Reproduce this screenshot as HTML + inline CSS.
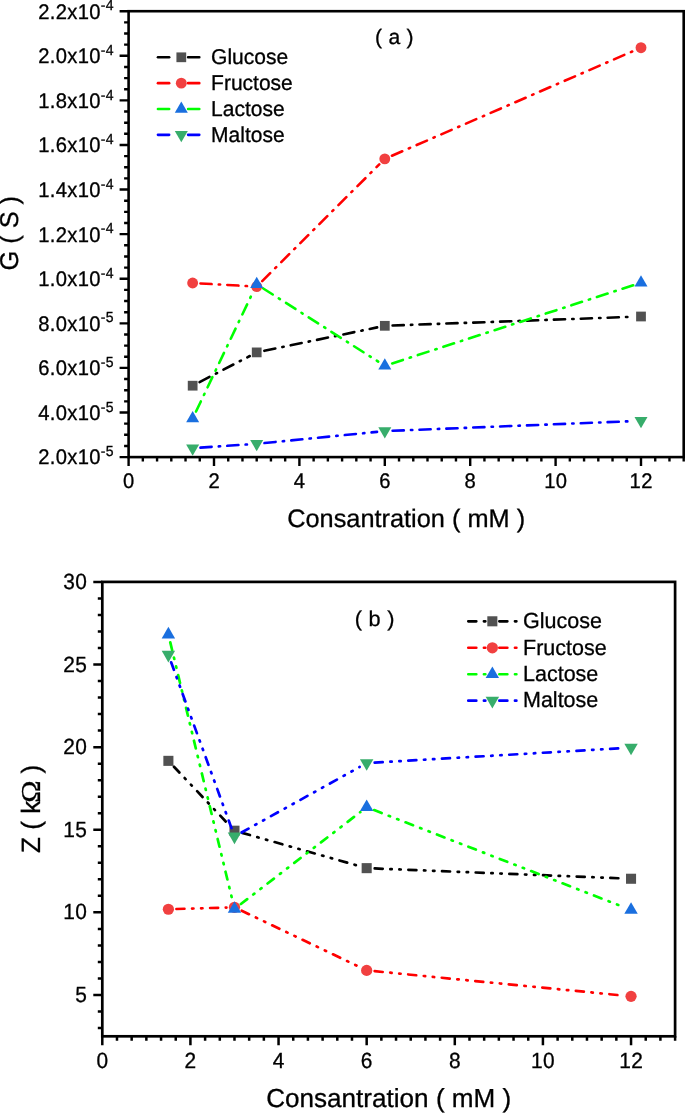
<!DOCTYPE html>
<html><head><meta charset="utf-8"><title>Figure</title>
<style>html,body{margin:0;padding:0;background:#fff}svg{display:block}text{font-family:'Liberation Sans', Arial, sans-serif;fill:#000;text-rendering:geometricPrecision}text.sf{font-family:'Liberation Serif',serif}</style>
</head><body>
<svg width="685" height="1113" viewBox="0 0 685 1113" style="will-change:transform">
<rect width="685" height="1113" fill="#fff"/>
<rect x="128.6" y="11.2" width="555.1" height="445.90000000000003" fill="none" stroke="#000" stroke-width="2.6"/>
<path d="M128.60 457.1 v9 M142.83 457.1 v4.5 M157.07 457.1 v4.5 M171.30 457.1 v4.5 M185.53 457.1 v4.5 M199.77 457.1 v4.5 M214.00 457.1 v9 M228.23 457.1 v4.5 M242.47 457.1 v4.5 M256.70 457.1 v4.5 M270.93 457.1 v4.5 M285.17 457.1 v4.5 M299.40 457.1 v9 M313.63 457.1 v4.5 M327.87 457.1 v4.5 M342.10 457.1 v4.5 M356.33 457.1 v4.5 M370.57 457.1 v4.5 M384.80 457.1 v9 M399.03 457.1 v4.5 M413.27 457.1 v4.5 M427.50 457.1 v4.5 M441.73 457.1 v4.5 M455.97 457.1 v4.5 M470.20 457.1 v9 M484.43 457.1 v4.5 M498.67 457.1 v4.5 M512.90 457.1 v4.5 M527.13 457.1 v4.5 M541.37 457.1 v4.5 M555.60 457.1 v9 M569.83 457.1 v4.5 M584.07 457.1 v4.5 M598.30 457.1 v4.5 M612.53 457.1 v4.5 M626.77 457.1 v4.5 M641.00 457.1 v9 M655.23 457.1 v4.5 M669.47 457.1 v4.5 M683.70 457.1 v4.5 M128.6 457.10 h-9 M128.6 445.95 h-4.5 M128.6 434.81 h-4.5 M128.6 423.66 h-4.5 M128.6 412.51 h-9 M128.6 401.36 h-4.5 M128.6 390.22 h-4.5 M128.6 379.07 h-4.5 M128.6 367.92 h-9 M128.6 356.77 h-4.5 M128.6 345.62 h-4.5 M128.6 334.48 h-4.5 M128.6 323.33 h-9 M128.6 312.18 h-4.5 M128.6 301.04 h-4.5 M128.6 289.89 h-4.5 M128.6 278.74 h-9 M128.6 267.59 h-4.5 M128.6 256.44 h-4.5 M128.6 245.30 h-4.5 M128.6 234.15 h-9 M128.6 223.00 h-4.5 M128.6 211.86 h-4.5 M128.6 200.71 h-4.5 M128.6 189.56 h-9 M128.6 178.41 h-4.5 M128.6 167.26 h-4.5 M128.6 156.12 h-4.5 M128.6 144.97 h-9 M128.6 133.82 h-4.5 M128.6 122.68 h-4.5 M128.6 111.53 h-4.5 M128.6 100.38 h-9 M128.6 89.23 h-4.5 M128.6 78.08 h-4.5 M128.6 66.94 h-4.5 M128.6 55.79 h-9 M128.6 44.64 h-4.5 M128.6 33.50 h-4.5 M128.6 22.35 h-4.5 M128.6 11.20 h-9" stroke="#000" stroke-width="2.4" fill="none"/>
<text transform="translate(128.75,488.00) scale(1,1.045)" font-size="20.2" text-anchor="middle" letter-spacing="0.3" stroke="#000" stroke-width="0.3">0</text>
<text transform="translate(214.15,488.00) scale(1,1.045)" font-size="20.2" text-anchor="middle" letter-spacing="0.3" stroke="#000" stroke-width="0.3">2</text>
<text transform="translate(299.55,488.00) scale(1,1.045)" font-size="20.2" text-anchor="middle" letter-spacing="0.3" stroke="#000" stroke-width="0.3">4</text>
<text transform="translate(384.95,488.00) scale(1,1.045)" font-size="20.2" text-anchor="middle" letter-spacing="0.3" stroke="#000" stroke-width="0.3">6</text>
<text transform="translate(470.35,488.00) scale(1,1.045)" font-size="20.2" text-anchor="middle" letter-spacing="0.3" stroke="#000" stroke-width="0.3">8</text>
<text transform="translate(555.75,488.00) scale(1,1.045)" font-size="20.2" text-anchor="middle" letter-spacing="0.3" stroke="#000" stroke-width="0.3">10</text>
<text transform="translate(641.15,488.00) scale(1,1.045)" font-size="20.2" text-anchor="middle" letter-spacing="0.3" stroke="#000" stroke-width="0.3">12</text>
<text transform="translate(113.80,464.47) scale(1,1.045)" font-size="20.2" text-anchor="end" letter-spacing="0.3" stroke="#000" stroke-width="0.3">2.0x10<tspan font-size="14" dy="-7.9">-5</tspan></text>
<text transform="translate(113.80,419.88) scale(1,1.045)" font-size="20.2" text-anchor="end" letter-spacing="0.3" stroke="#000" stroke-width="0.3">4.0x10<tspan font-size="14" dy="-7.9">-5</tspan></text>
<text transform="translate(113.80,375.29) scale(1,1.045)" font-size="20.2" text-anchor="end" letter-spacing="0.3" stroke="#000" stroke-width="0.3">6.0x10<tspan font-size="14" dy="-7.9">-5</tspan></text>
<text transform="translate(113.80,330.70) scale(1,1.045)" font-size="20.2" text-anchor="end" letter-spacing="0.3" stroke="#000" stroke-width="0.3">8.0x10<tspan font-size="14" dy="-7.9">-5</tspan></text>
<text transform="translate(113.80,286.11) scale(1,1.045)" font-size="20.2" text-anchor="end" letter-spacing="0.3" stroke="#000" stroke-width="0.3">1.0x10<tspan font-size="14" dy="-7.9">-4</tspan></text>
<text transform="translate(113.80,241.52) scale(1,1.045)" font-size="20.2" text-anchor="end" letter-spacing="0.3" stroke="#000" stroke-width="0.3">1.2x10<tspan font-size="14" dy="-7.9">-4</tspan></text>
<text transform="translate(113.80,196.93) scale(1,1.045)" font-size="20.2" text-anchor="end" letter-spacing="0.3" stroke="#000" stroke-width="0.3">1.4x10<tspan font-size="14" dy="-7.9">-4</tspan></text>
<text transform="translate(113.80,152.34) scale(1,1.045)" font-size="20.2" text-anchor="end" letter-spacing="0.3" stroke="#000" stroke-width="0.3">1.6x10<tspan font-size="14" dy="-7.9">-4</tspan></text>
<text transform="translate(113.80,107.75) scale(1,1.045)" font-size="20.2" text-anchor="end" letter-spacing="0.3" stroke="#000" stroke-width="0.3">1.8x10<tspan font-size="14" dy="-7.9">-4</tspan></text>
<text transform="translate(113.80,63.16) scale(1,1.045)" font-size="20.2" text-anchor="end" letter-spacing="0.3" stroke="#000" stroke-width="0.3">2.0x10<tspan font-size="14" dy="-7.9">-4</tspan></text>
<text transform="translate(113.80,18.57) scale(1,1.045)" font-size="20.2" text-anchor="end" letter-spacing="0.3" stroke="#000" stroke-width="0.3">2.2x10<tspan font-size="14" dy="-7.9">-4</tspan></text>
<text transform="translate(406.15,527.30) scale(1,1.0)" font-size="25.33" text-anchor="middle" stroke="#000" stroke-width="0.3">Consantration ( mM )</text>
<text transform="translate(18.00,233.25) rotate(-90) scale(1,1.015)" font-size="25.33" text-anchor="middle" stroke="#000" stroke-width="0.3">G ( S )</text>
<text transform="translate(375.10,43.90) scale(1,0.99)" font-size="21.1" letter-spacing="0.25" stroke="#000" stroke-width="0.3">( a )</text>
<line x1="199.57" y1="382.10" x2="249.78" y2="356.00" stroke="#000000" stroke-width="2.6" stroke-linecap="round" stroke-dasharray="11.2 7.15 1.4 7.15"/>
<line x1="264.34" y1="350.81" x2="377.16" y2="327.39" stroke="#000000" stroke-width="2.6" stroke-linecap="round" stroke-dasharray="11.2 7.15 1.4 7.15"/>
<line x1="392.59" y1="325.52" x2="633.21" y2="316.78" stroke="#000000" stroke-width="2.6" stroke-linecap="round" stroke-dasharray="11.2 7.15 1.4 7.15"/>
<rect x="187.78" y="380.82" width="9.75" height="9.75" fill="#515151"/>
<rect x="251.83" y="347.52" width="9.75" height="9.75" fill="#515151"/>
<rect x="379.93" y="320.93" width="9.75" height="9.75" fill="#515151"/>
<rect x="636.13" y="311.62" width="9.75" height="9.75" fill="#515151"/>
<line x1="200.44" y1="283.44" x2="248.91" y2="286.16" stroke="#FF0000" stroke-width="2.6" stroke-linecap="round" stroke-dasharray="11.2 7.15 1.4 7.15"/>
<line x1="262.22" y1="281.09" x2="379.28" y2="164.36" stroke="#FF0000" stroke-width="2.6" stroke-linecap="round" stroke-dasharray="11.2 7.15 1.4 7.15"/>
<line x1="391.96" y1="155.75" x2="633.84" y2="50.80" stroke="#FF0000" stroke-width="2.6" stroke-linecap="round" stroke-dasharray="11.2 7.15 1.4 7.15"/>
<circle cx="192.65" cy="283.00" r="5.45" fill="#F14040"/>
<circle cx="256.70" cy="286.60" r="5.45" fill="#F14040"/>
<circle cx="384.80" cy="158.85" r="5.45" fill="#F14040"/>
<circle cx="641.00" cy="47.70" r="5.45" fill="#F14040"/>
<line x1="196.01" y1="411.56" x2="253.34" y2="291.34" stroke="#00FF00" stroke-width="2.6" stroke-linecap="round" stroke-dasharray="11.2 7.15 1.4 7.15"/>
<line x1="263.28" y1="288.49" x2="378.22" y2="361.61" stroke="#00FF00" stroke-width="2.6" stroke-linecap="round" stroke-dasharray="11.2 7.15 1.4 7.15"/>
<line x1="392.22" y1="363.39" x2="633.58" y2="285.11" stroke="#00FF00" stroke-width="2.6" stroke-linecap="round" stroke-dasharray="11.2 7.15 1.4 7.15"/>
<polygon points="192.65,411.09 186.15,422.35 199.15,422.35" fill="#1A6FDF"/>
<polygon points="256.70,276.79 250.20,288.05 263.20,288.05" fill="#1A6FDF"/>
<polygon points="384.80,358.29 378.30,369.55 391.30,369.55" fill="#1A6FDF"/>
<polygon points="641.00,275.19 634.50,286.45 647.50,286.45" fill="#1A6FDF"/>
<line x1="200.43" y1="447.67" x2="248.92" y2="444.33" stroke="#0000FF" stroke-width="2.6" stroke-linecap="round" stroke-dasharray="11.2 7.15 1.4 7.15"/>
<line x1="264.46" y1="443.03" x2="377.04" y2="431.87" stroke="#0000FF" stroke-width="2.6" stroke-linecap="round" stroke-dasharray="11.2 7.15 1.4 7.15"/>
<line x1="392.59" y1="430.79" x2="633.21" y2="421.11" stroke="#0000FF" stroke-width="2.6" stroke-linecap="round" stroke-dasharray="11.2 7.15 1.4 7.15"/>
<polygon points="192.65,455.71 186.15,444.45 199.15,444.45" fill="#37AD6B"/>
<polygon points="256.70,451.31 250.20,440.05 263.20,440.05" fill="#37AD6B"/>
<polygon points="384.80,438.61 378.30,427.35 391.30,427.35" fill="#37AD6B"/>
<polygon points="641.00,428.31 634.50,417.05 647.50,417.05" fill="#37AD6B"/>
<g clip-path="url(#alc)">
<line x1="157.95" y1="57.30" x2="174.50" y2="57.30" stroke="#000000" stroke-width="2.6" stroke-linecap="round" stroke-dasharray="11.2 7.15 1.4 7.15"/>
<line x1="188.10" y1="57.30" x2="224.65" y2="57.30" stroke="#000000" stroke-width="2.6" stroke-linecap="round" stroke-dasharray="11.2 7.15 1.4 7.15"/>
</g>
<rect x="176.43" y="52.42" width="9.75" height="9.75" fill="#515151"/>
<text transform="translate(211.10,64.05) scale(1,1.02)" font-size="21" stroke="#000" stroke-width="0.3">Glucose</text>
<g clip-path="url(#alc)">
<line x1="157.95" y1="83.15" x2="174.50" y2="83.15" stroke="#FF0000" stroke-width="2.6" stroke-linecap="round" stroke-dasharray="11.2 7.15 1.4 7.15"/>
<line x1="188.10" y1="83.15" x2="224.65" y2="83.15" stroke="#FF0000" stroke-width="2.6" stroke-linecap="round" stroke-dasharray="11.2 7.15 1.4 7.15"/>
</g>
<circle cx="181.30" cy="83.15" r="5.45" fill="#F14040"/>
<text transform="translate(211.10,90.05) scale(1,1.02)" font-size="21" stroke="#000" stroke-width="0.3">Fructose</text>
<g clip-path="url(#alc)">
<line x1="157.95" y1="109.00" x2="174.50" y2="109.00" stroke="#00FF00" stroke-width="2.6" stroke-linecap="round" stroke-dasharray="11.2 7.15 1.4 7.15"/>
<line x1="188.10" y1="109.00" x2="224.65" y2="109.00" stroke="#00FF00" stroke-width="2.6" stroke-linecap="round" stroke-dasharray="11.2 7.15 1.4 7.15"/>
</g>
<polygon points="181.30,101.49 174.80,112.75 187.80,112.75" fill="#1A6FDF"/>
<text transform="translate(211.10,116.05) scale(1,1.02)" font-size="21" stroke="#000" stroke-width="0.3">Lactose</text>
<g clip-path="url(#alc)">
<line x1="157.95" y1="134.85" x2="174.50" y2="134.85" stroke="#0000FF" stroke-width="2.6" stroke-linecap="round" stroke-dasharray="11.2 7.15 1.4 7.15"/>
<line x1="188.10" y1="134.85" x2="224.65" y2="134.85" stroke="#0000FF" stroke-width="2.6" stroke-linecap="round" stroke-dasharray="11.2 7.15 1.4 7.15"/>
</g>
<polygon points="181.30,142.36 174.80,131.10 187.80,131.10" fill="#37AD6B"/>
<text transform="translate(211.10,142.05) scale(1,1.02)" font-size="21" stroke="#000" stroke-width="0.3">Maltose</text>
<clipPath id="alc"><rect x="154.65" y="47.3" width="50.29999999999998" height="97.55000000000001"/></clipPath>
<rect x="102.3" y="581.9" width="572.8000000000001" height="454.4" fill="none" stroke="#000" stroke-width="2.7"/>
<path d="M102.30 1036.3 v9 M116.99 1036.3 v4.5 M131.67 1036.3 v4.5 M146.36 1036.3 v4.5 M161.05 1036.3 v4.5 M175.74 1036.3 v4.5 M190.42 1036.3 v9 M205.11 1036.3 v4.5 M219.80 1036.3 v4.5 M234.48 1036.3 v4.5 M249.17 1036.3 v4.5 M263.86 1036.3 v4.5 M278.55 1036.3 v9 M293.23 1036.3 v4.5 M307.92 1036.3 v4.5 M322.61 1036.3 v4.5 M337.29 1036.3 v4.5 M351.98 1036.3 v4.5 M366.67 1036.3 v9 M381.36 1036.3 v4.5 M396.04 1036.3 v4.5 M410.73 1036.3 v4.5 M425.42 1036.3 v4.5 M440.11 1036.3 v4.5 M454.79 1036.3 v9 M469.48 1036.3 v4.5 M484.17 1036.3 v4.5 M498.85 1036.3 v4.5 M513.54 1036.3 v4.5 M528.23 1036.3 v4.5 M542.92 1036.3 v9 M557.60 1036.3 v4.5 M572.29 1036.3 v4.5 M586.98 1036.3 v4.5 M601.66 1036.3 v4.5 M616.35 1036.3 v4.5 M631.04 1036.3 v9 M645.73 1036.3 v4.5 M660.41 1036.3 v4.5 M675.10 1036.3 v4.5 M102.3 1028.04 h-4.5 M102.3 1011.51 h-4.5 M102.3 994.99 h-9 M102.3 978.47 h-4.5 M102.3 961.94 h-4.5 M102.3 945.42 h-4.5 M102.3 928.90 h-4.5 M102.3 912.37 h-9 M102.3 895.85 h-4.5 M102.3 879.33 h-4.5 M102.3 862.80 h-4.5 M102.3 846.28 h-4.5 M102.3 829.75 h-9 M102.3 813.23 h-4.5 M102.3 796.71 h-4.5 M102.3 780.18 h-4.5 M102.3 763.66 h-4.5 M102.3 747.14 h-9 M102.3 730.61 h-4.5 M102.3 714.09 h-4.5 M102.3 697.57 h-4.5 M102.3 681.04 h-4.5 M102.3 664.52 h-9 M102.3 647.99 h-4.5 M102.3 631.47 h-4.5 M102.3 614.95 h-4.5 M102.3 598.42 h-4.5 M102.3 581.90 h-9" stroke="#000" stroke-width="2.5" fill="none"/>
<text transform="translate(102.50,1067.80) scale(1,1.045)" font-size="20.9" text-anchor="middle" letter-spacing="0.4" stroke="#000" stroke-width="0.3">0</text>
<text transform="translate(190.62,1067.80) scale(1,1.045)" font-size="20.9" text-anchor="middle" letter-spacing="0.4" stroke="#000" stroke-width="0.3">2</text>
<text transform="translate(278.75,1067.80) scale(1,1.045)" font-size="20.9" text-anchor="middle" letter-spacing="0.4" stroke="#000" stroke-width="0.3">4</text>
<text transform="translate(366.87,1067.80) scale(1,1.045)" font-size="20.9" text-anchor="middle" letter-spacing="0.4" stroke="#000" stroke-width="0.3">6</text>
<text transform="translate(454.99,1067.80) scale(1,1.045)" font-size="20.9" text-anchor="middle" letter-spacing="0.4" stroke="#000" stroke-width="0.3">8</text>
<text transform="translate(543.12,1067.80) scale(1,1.045)" font-size="20.9" text-anchor="middle" letter-spacing="0.4" stroke="#000" stroke-width="0.3">10</text>
<text transform="translate(631.24,1067.80) scale(1,1.045)" font-size="20.9" text-anchor="middle" letter-spacing="0.4" stroke="#000" stroke-width="0.3">12</text>
<text transform="translate(87.30,1002.02) scale(1,1.045)" font-size="20.9" text-anchor="end" letter-spacing="0.4" stroke="#000" stroke-width="0.3">5</text>
<text transform="translate(87.30,919.40) scale(1,1.045)" font-size="20.9" text-anchor="end" letter-spacing="0.4" stroke="#000" stroke-width="0.3">10</text>
<text transform="translate(87.30,836.78) scale(1,1.045)" font-size="20.9" text-anchor="end" letter-spacing="0.4" stroke="#000" stroke-width="0.3">15</text>
<text transform="translate(87.30,754.16) scale(1,1.045)" font-size="20.9" text-anchor="end" letter-spacing="0.4" stroke="#000" stroke-width="0.3">20</text>
<text transform="translate(87.30,671.55) scale(1,1.045)" font-size="20.9" text-anchor="end" letter-spacing="0.4" stroke="#000" stroke-width="0.3">25</text>
<text transform="translate(87.30,588.93) scale(1,1.045)" font-size="20.9" text-anchor="end" letter-spacing="0.4" stroke="#000" stroke-width="0.3">30</text>
<text transform="translate(388.70,1107.20) scale(1,1.0)" font-size="26.1" text-anchor="middle" stroke="#000" stroke-width="0.3">Consantration ( mM )</text>
<text transform="translate(40.00,853.00) rotate(-90) scale(1,1.015)" font-size="26.1" stroke="#000" stroke-width="0.3">Z ( k</text>
<text transform="translate(40.00,791.67) rotate(-90) scale(1.15,1.045)" font-size="26.1" text-anchor="middle" class="sf" stroke="#000" stroke-width="0.3">Ω</text>
<text transform="translate(40.00,773.50) rotate(-90) scale(1,1.015)" font-size="26.1" stroke="#000" stroke-width="0.3">)</text>
<text transform="translate(354.80,626.10) scale(1,0.99)" font-size="21.7" letter-spacing="0.25" stroke="#000" stroke-width="0.3">( b )</text>
<line x1="173.93" y1="766.70" x2="228.95" y2="824.85" stroke="#000000" stroke-width="2.7" stroke-linecap="round" stroke-dasharray="8.0 7.63 1.4 7.63 1.4 7.63"/>
<line x1="242.23" y1="832.89" x2="358.92" y2="865.96" stroke="#000000" stroke-width="2.7" stroke-linecap="round" stroke-dasharray="8.0 7.63 1.4 7.63 1.4 7.63"/>
<line x1="374.71" y1="868.47" x2="622.99" y2="878.43" stroke="#000000" stroke-width="2.7" stroke-linecap="round" stroke-dasharray="8.0 7.63 1.4 7.63 1.4 7.63"/>
<rect x="163.36" y="755.82" width="10.06" height="10.06" fill="#515151"/>
<rect x="229.45" y="825.67" width="10.06" height="10.06" fill="#515151"/>
<rect x="361.64" y="863.12" width="10.06" height="10.06" fill="#515151"/>
<rect x="626.01" y="873.72" width="10.06" height="10.06" fill="#515151"/>
<line x1="176.44" y1="909.01" x2="226.44" y2="907.54" stroke="#FF0000" stroke-width="2.7" stroke-linecap="round" stroke-dasharray="8.0 7.63 1.4 7.63 1.4 7.63"/>
<line x1="241.75" y1="910.77" x2="359.40" y2="966.93" stroke="#FF0000" stroke-width="2.7" stroke-linecap="round" stroke-dasharray="8.0 7.63 1.4 7.63 1.4 7.63"/>
<line x1="374.68" y1="971.19" x2="623.03" y2="995.56" stroke="#FF0000" stroke-width="2.7" stroke-linecap="round" stroke-dasharray="8.0 7.63 1.4 7.63 1.4 7.63"/>
<circle cx="168.39" cy="909.25" r="5.62" fill="#F14040"/>
<circle cx="234.48" cy="907.30" r="5.62" fill="#F14040"/>
<circle cx="366.67" cy="970.40" r="5.62" fill="#F14040"/>
<circle cx="631.04" cy="996.35" r="5.62" fill="#F14040"/>
<line x1="170.28" y1="642.43" x2="232.60" y2="901.07" stroke="#00FF00" stroke-width="2.7" stroke-linecap="round" stroke-dasharray="8.0 7.63 1.4 7.63 1.4 7.63"/>
<line x1="240.86" y1="903.99" x2="360.29" y2="812.11" stroke="#00FF00" stroke-width="2.7" stroke-linecap="round" stroke-dasharray="8.0 7.63 1.4 7.63 1.4 7.63"/>
<line x1="374.17" y1="810.11" x2="623.53" y2="906.99" stroke="#00FF00" stroke-width="2.7" stroke-linecap="round" stroke-dasharray="8.0 7.63 1.4 7.63 1.4 7.63"/>
<polygon points="168.39,626.85 161.68,638.47 175.10,638.47" fill="#1A6FDF"/>
<polygon points="234.48,901.15 227.78,912.77 241.19,912.77" fill="#1A6FDF"/>
<polygon points="366.67,799.45 359.96,811.07 373.38,811.07" fill="#1A6FDF"/>
<polygon points="631.04,902.15 624.33,913.77 637.75,913.77" fill="#1A6FDF"/>
<line x1="171.14" y1="662.27" x2="231.73" y2="828.83" stroke="#0000FF" stroke-width="2.7" stroke-linecap="round" stroke-dasharray="8.0 7.63 1.4 7.63 1.4 7.63"/>
<line x1="241.52" y1="832.50" x2="359.63" y2="767.00" stroke="#0000FF" stroke-width="2.7" stroke-linecap="round" stroke-dasharray="8.0 7.63 1.4 7.63 1.4 7.63"/>
<line x1="374.71" y1="762.63" x2="623.00" y2="748.07" stroke="#0000FF" stroke-width="2.7" stroke-linecap="round" stroke-dasharray="8.0 7.63 1.4 7.63 1.4 7.63"/>
<polygon points="168.39,662.45 161.68,650.83 175.10,650.83" fill="#37AD6B"/>
<polygon points="234.48,844.15 227.78,832.53 241.19,832.53" fill="#37AD6B"/>
<polygon points="366.67,770.85 359.96,759.23 373.38,759.23" fill="#37AD6B"/>
<polygon points="631.04,755.35 624.33,743.73 637.75,743.73" fill="#37AD6B"/>
<g clip-path="url(#blc)">
<line x1="468.30" y1="621.30" x2="485.35" y2="621.30" stroke="#000000" stroke-width="2.7" stroke-linecap="round" stroke-dasharray="8.0 7.63 1.4 7.63 1.4 7.63"/>
<line x1="499.35" y1="621.30" x2="536.40" y2="621.30" stroke="#000000" stroke-width="2.7" stroke-linecap="round" stroke-dasharray="8.0 7.63 1.4 7.63 1.4 7.63"/>
</g>
<rect x="487.32" y="616.27" width="10.06" height="10.06" fill="#515151"/>
<text transform="translate(523.00,628.05) scale(1,1.02)" font-size="21.5" stroke="#000" stroke-width="0.3">Glucose</text>
<g clip-path="url(#blc)">
<line x1="468.30" y1="647.77" x2="485.35" y2="647.77" stroke="#FF0000" stroke-width="2.7" stroke-linecap="round" stroke-dasharray="8.0 7.63 1.4 7.63 1.4 7.63"/>
<line x1="499.35" y1="647.77" x2="536.40" y2="647.77" stroke="#FF0000" stroke-width="2.7" stroke-linecap="round" stroke-dasharray="8.0 7.63 1.4 7.63 1.4 7.63"/>
</g>
<circle cx="492.35" cy="647.77" r="5.62" fill="#F14040"/>
<text transform="translate(523.00,655.05) scale(1,1.02)" font-size="21.5" stroke="#000" stroke-width="0.3">Fructose</text>
<g clip-path="url(#blc)">
<line x1="468.30" y1="674.24" x2="485.35" y2="674.24" stroke="#00FF00" stroke-width="2.7" stroke-linecap="round" stroke-dasharray="8.0 7.63 1.4 7.63 1.4 7.63"/>
<line x1="499.35" y1="674.24" x2="536.40" y2="674.24" stroke="#00FF00" stroke-width="2.7" stroke-linecap="round" stroke-dasharray="8.0 7.63 1.4 7.63 1.4 7.63"/>
</g>
<polygon points="492.35,666.49 485.64,678.11 499.06,678.11" fill="#1A6FDF"/>
<text transform="translate(523.00,681.05) scale(1,1.02)" font-size="21.5" stroke="#000" stroke-width="0.3">Lactose</text>
<g clip-path="url(#blc)">
<line x1="468.30" y1="700.71" x2="485.35" y2="700.71" stroke="#0000FF" stroke-width="2.7" stroke-linecap="round" stroke-dasharray="8.0 7.63 1.4 7.63 1.4 7.63"/>
<line x1="499.35" y1="700.71" x2="536.40" y2="700.71" stroke="#0000FF" stroke-width="2.7" stroke-linecap="round" stroke-dasharray="8.0 7.63 1.4 7.63 1.4 7.63"/>
</g>
<polygon points="492.35,708.46 485.64,696.84 499.06,696.84" fill="#37AD6B"/>
<text transform="translate(523.00,707.05) scale(1,1.02)" font-size="21.5" stroke="#000" stroke-width="0.3">Maltose</text>
<clipPath id="blc"><rect x="464.95" y="611.3" width="53.30000000000001" height="99.41"/></clipPath>
</svg>
</body></html>
